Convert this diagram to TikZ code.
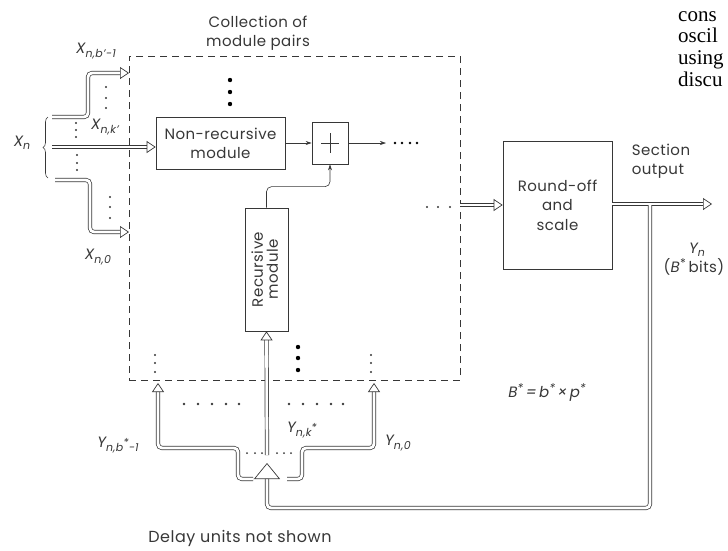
\documentclass[tikz,border=0pt]{standalone}
\usepackage{fontspec}
\setmainfont{Poppins}[LetterSpace=3]
\newfontfamily\pagefont{Liberation Serif}
\usepackage{graphicx}
\usetikzlibrary{arrows.meta,positioning,calc,decorations.pathreplacing}
\definecolor{inkgray}{RGB}{55,55,55}
\newcommand\sbs[1]{\raisebox{-3.5pt}{\fontsize{11}{11}\selectfont #1}}
\newcommand\sps{\raisebox{5pt}{\fontsize{12}{12}\selectfont *}}

\begin{document}
\begin{tikzpicture}[
  x=1pt,y=-1pt,
  every node/.style={font=\fontsize{15}{19}\selectfont,text=inkgray},
  box/.style={draw=inkgray,line width=0.7pt,align=center,inner sep=2pt},
  pairbox/.style={draw=inkgray,line width=0.6pt,dash pattern=on 7pt off 5pt},
  pipe/.style={draw=inkgray,line width=0.7pt,double=white,double distance=2.8pt,
               rounded corners=4pt},
  hollow/.style={-{Triangle[open,length=9pt,width=12pt]}},
  bighollow/.style={-{Triangle[open,length=16pt,width=26pt]}},
  signal/.style={draw=inkgray,line width=0.6pt,-{Stealth[length=6pt,width=4pt]},
                 rounded corners=5pt},
  lbl/.style={font=\itshape\fontsize{15}{17}\selectfont},
  page/.style={font=\pagefont\fontsize{21}{21.7}\selectfont,text=black,align=left,inner sep=0pt},
]
  \useasboundingbox (0,0) rectangle (728,550);

  % Blocks
  \node[pairbox,minimum width=331pt,minimum height=324pt] (pairs) at (294.5,218) {};
  \node[align=center] (title) at (258,33) {Collection of\\module pairs};
  \node[box,minimum width=129pt,minimum height=52pt] (nonrec) at (220.5,143) {Non-recursive\\module};
  \node[box,minimum width=36pt,minimum height=42pt] (adder) at (330,143) {};
  \draw[inkgray,line width=0.6pt] ($(adder)+(-9,0)$) -- ($(adder)+(9,0)$)
                                  ($(adder)+(0,-10)$) -- ($(adder)+(0,10)$);
  \node[box,minimum width=43pt,minimum height=123pt] (rec) at (266.5,269.5)
    {\rotatebox{90}{\begin{tabular}{@{}c@{}}Recursive\\[-4pt]module\end{tabular}}};
  \node[box,minimum width=109pt,minimum height=128pt,font=\fontsize{15}{19.5}\selectfont] (round) at (557.5,205) {Round-off\\and\\scale};

  % Free ends
  \coordinate (xtop) at (52,117);
  \coordinate (xmid) at (52,147);
  \coordinate (xbot) at (55,180);
  \coordinate (xb1) at (129,73);
  \coordinate (x0) at (129,232);
  \coordinate (sumout) at (386,143);
  \coordinate (outend) at (712,204);
  \coordinate (tap) at (650,205);
  \coordinate (fbtip) at (267,463);
  \coordinate (ykin) at (267,455);
  \coordinate (yl) at (253,479);
  \coordinate (yr) at (287,479);
  \coordinate (yb1) at (158,383);
  \coordinate (y0) at (374,383);

  % Input bus
  \draw[inkgray,line width=0.6pt,decorate,decoration={brace,amplitude=5pt}] (48,178) -- (48,117);
  \draw[pipe,hollow] (xtop) -- ++(36,0) |- (xb1);
  \draw[pipe,hollow] (xmid) -- (xmid -| nonrec.west);
  \draw[pipe,hollow] (xbot) -- ++(35,0) |- (x0);

  % Module pair signals
  \draw[signal] (nonrec) -- (adder);
  \draw[signal] (adder) -- (sumout);
  \draw[signal] (rec.north) -- ++(0,-21) -| (adder.south);

  % Output and feedback
  \draw[pipe,hollow] (pairs.east |- round) -- (round.west);
  \draw[pipe,hollow] (round.east |- outend) -- (outend);
  \draw[pipe,bighollow] (tap) |- ($(fbtip)+(0,45)$) -- (fbtip);
  \draw[pipe,hollow] (ykin) -- (rec.south);
  \draw[pipe,hollow] (yl) -- ++(-15,0) -- ++(0,-31) -| (yb1);
  \draw[pipe,hollow] (yr) -- ++(15,0) -- ++(0,-31) -| (y0);

  % Dots
  \foreach \y in {80,92,104} \fill[black] (230,\y) circle[radius=2.2pt];
  \foreach \y in {347,358,370} \fill[black] (298,\y) circle[radius=2.2pt];
  \foreach \x/\y in {106/87,106/98,106/108, 76/123,76/130,76/137, 77/155,77/163,77/170,
                     110/197,110/207,110/218, 155/355,155/363,155/372, 371/355,371/363,371/372}
    \fill[inkgray] (\x,\y) circle[radius=1.1pt];
  \foreach \x in {184,198,212,226,239,289,303,317,331,343}
    \fill[inkgray] (\x,404) circle[radius=1.3pt];
  \foreach \x in {395,402,410,417} \fill[black] (\x,143) circle[radius=1.3pt];
  \foreach \x in {427,438,450} \fill[inkgray] (\x,207) circle[radius=1.1pt];
  \foreach \x in {247,255,262,277,284,291} \fill[inkgray] (\x,453) circle[radius=1pt];

  % Labels
  \node[lbl] (xnl) at (22,143) {X\sbs{n}};
  \node[lbl] (xb1l) at (96,51) {X\sbs{n,b'−1}};
  \node[lbl] (xkl) at (105,127) {X\sbs{n,k'}};
  \node[lbl] (x0l) at (98,257) {X\sbs{n,0}};
  \node[lbl] (yb1l) at (118,445) {Y\sbs{n,b\raisebox{5pt}{*}−1}};
  \node[lbl] (ykl) at (302,430) {Y\sbs{n,k\raisebox{5pt}{*}}};
  \node[lbl] (y0l) at (398,443) {Y\sbs{n,0}};
  \node[lbl] (ynl) at (697,250) {Y\sbs{n}};
  \node (bits) at (694,267) {(\textit{B}\sps\,bits)};
  \node[lbl] (bstar) at (547,393) {B\sps\,=\,b\sps\,×\,p\sps};
  \node[align=left] (sect) at (661,161) {Section\\output};
  \node[font=\fontsize{16}{19}\selectfont] (delay) at (240,538) {Delay units not shown};

  % Page text
  \node[page,anchor=north west] (ptext) at (678,11) {cons\\oscil\\using\\discu};
\end{tikzpicture}
\end{document}
